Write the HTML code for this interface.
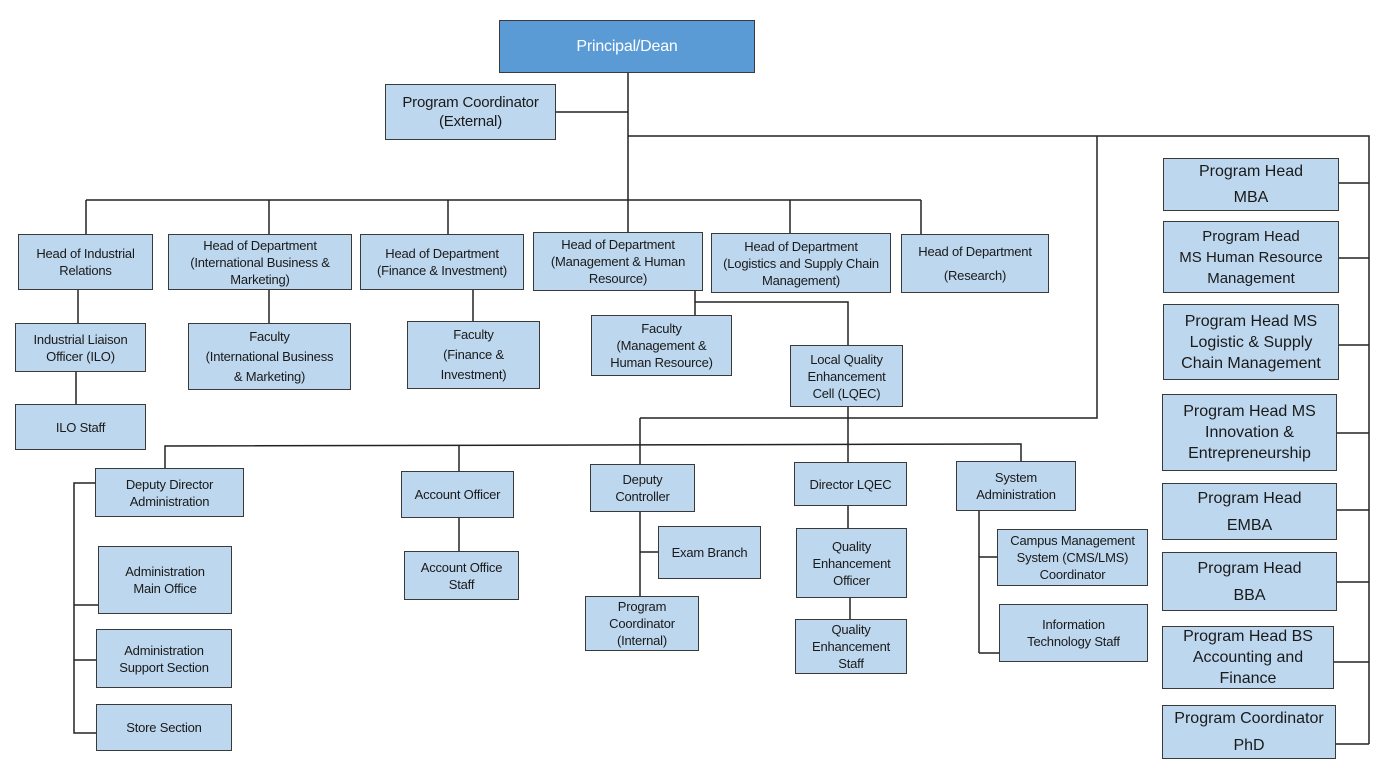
<!DOCTYPE html>
<html><head><meta charset="utf-8"><style>
body{margin:0;background:#fff;width:1385px;height:775px;position:relative;overflow:hidden;font-family:"Liberation Sans",sans-serif;}
.b{position:absolute;box-sizing:border-box;background:#bdd7ee;border:1.5px solid #3a3a3a;display:flex;align-items:center;justify-content:center;text-align:center;font-size:13px;line-height:17px;color:#1a1a1a;letter-spacing:-0.2px;}
.r{font-size:16px;line-height:21px;letter-spacing:0;}
svg{position:absolute;left:0;top:0}
</style></head><body>
<svg width="1385" height="775" stroke="#222" stroke-width="1.5" fill="none">
<path d="M628 73V200M556 112H628M628 136H1369V744M86 200H921M86 200V234M269 200V234M448 200V234M628 200V232M790 200V233M921 200V234"/>
<path d="M78 290V323M76 372V404M269 290V323M473 290V321M695 291V315M695 302H848V345M848 407V462M640 418H1097V136M640 418V464"/>
<path d="M165 468V446L1021 444V461M459 445V471M459 518V551M640 512V596M640 552H658M848 506V528M850 598V619M979 511V653M979 557H997M979 653H999"/>
<path d="M95 483H74V733H96M74 605H98M74 660H96"/>
<path d="M1339 183H1369M1339 258H1369M1339 345H1369M1337 433H1369M1337 510H1369M1337 582H1369M1334 662H1369M1336 744H1369"/>
</svg>
<div class="b" style="left:499px;top:20px;width:256px;height:53px;background:#5b9bd5;color:#fff;font-size:16px;">Principal/Dean</div>
<div class="b" style="left:385px;top:84px;width:171px;height:56px;font-size:15px;line-height:19px">Program Coordinator<br>(External)</div>
<div class="b" style="left:18px;top:234px;width:135px;height:56px">Head of Industrial<br>Relations</div>
<div class="b" style="left:168px;top:234px;width:184px;height:56px">Head of Department<br>(International Business &amp;<br>Marketing)</div>
<div class="b" style="left:360px;top:234px;width:164px;height:56px">Head of Department<br>(Finance &amp; Investment)</div>
<div class="b" style="left:533px;top:232px;width:170px;height:59px">Head of Department<br>(Management &amp; Human<br>Resource)</div>
<div class="b" style="left:711px;top:233px;width:180px;height:60px">Head of Department<br>(Logistics and Supply Chain<br>Management)</div>
<div class="b" style="left:901px;top:234px;width:148px;height:59px;line-height:24px">Head of Department<br>(Research)</div>
<div class="b" style="left:15px;top:323px;width:131px;height:49px">Industrial Liaison<br>Officer (ILO)</div>
<div class="b" style="left:15px;top:404px;width:131px;height:46px">ILO Staff</div>
<div class="b" style="left:188px;top:323px;width:163px;height:67px;line-height:20px">Faculty<br>(International Business<br>&amp; Marketing)</div>
<div class="b" style="left:407px;top:321px;width:133px;height:68px;line-height:20px">Faculty<br>(Finance &amp;<br>Investment)</div>
<div class="b" style="left:591px;top:315px;width:141px;height:61px">Faculty<br>(Management &amp;<br>Human Resource)</div>
<div class="b" style="left:790px;top:345px;width:113px;height:62px">Local Quality<br>Enhancement<br>Cell (LQEC)</div>
<div class="b" style="left:95px;top:468px;width:149px;height:49px">Deputy Director<br>Administration</div>
<div class="b" style="left:98px;top:546px;width:134px;height:68px">Administration<br>Main Office</div>
<div class="b" style="left:96px;top:629px;width:136px;height:59px">Administration<br>Support Section</div>
<div class="b" style="left:96px;top:704px;width:136px;height:47px">Store Section</div>
<div class="b" style="left:401px;top:471px;width:113px;height:47px">Account Officer</div>
<div class="b" style="left:404px;top:551px;width:115px;height:49px">Account Office<br>Staff</div>
<div class="b" style="left:590px;top:464px;width:105px;height:48px">Deputy<br>Controller</div>
<div class="b" style="left:658px;top:526px;width:103px;height:53px">Exam Branch</div>
<div class="b" style="left:585px;top:596px;width:114px;height:55px">Program<br>Coordinator<br>(Internal)</div>
<div class="b" style="left:794px;top:462px;width:113px;height:44px">Director LQEC</div>
<div class="b" style="left:796px;top:528px;width:111px;height:70px">Quality<br>Enhancement<br>Officer</div>
<div class="b" style="left:795px;top:619px;width:112px;height:55px">Quality<br>Enhancement<br>Staff</div>
<div class="b" style="left:956px;top:461px;width:120px;height:50px">System<br>Administration</div>
<div class="b" style="left:997px;top:529px;width:151px;height:57px">Campus Management<br>System (CMS/LMS)<br>Coordinator</div>
<div class="b" style="left:999px;top:604px;width:149px;height:58px">Information<br>Technology Staff</div>
<div class="b r" style="left:1163px;top:158px;width:176px;height:53px;line-height:26px">Program Head<br>MBA</div>
<div class="b r" style="left:1163px;top:221px;width:176px;height:72px;font-size:15px;line-height:21px">Program Head<br>MS Human Resource<br>Management</div>
<div class="b r" style="left:1163px;top:304px;width:176px;height:76px">Program Head MS<br>Logistic &amp; Supply<br>Chain Management</div>
<div class="b r" style="left:1162px;top:394px;width:175px;height:77px">Program Head MS<br>Innovation &amp;<br>Entrepreneurship</div>
<div class="b r" style="left:1162px;top:483px;width:175px;height:57px;line-height:27px">Program Head<br>EMBA</div>
<div class="b r" style="left:1162px;top:552px;width:175px;height:59px;line-height:27px">Program Head<br>BBA</div>
<div class="b r" style="left:1162px;top:626px;width:172px;height:63px">Program Head BS<br>Accounting and<br>Finance</div>
<div class="b r" style="left:1162px;top:705px;width:174px;height:54px;line-height:27px">Program Coordinator<br>PhD</div>
</body></html>
